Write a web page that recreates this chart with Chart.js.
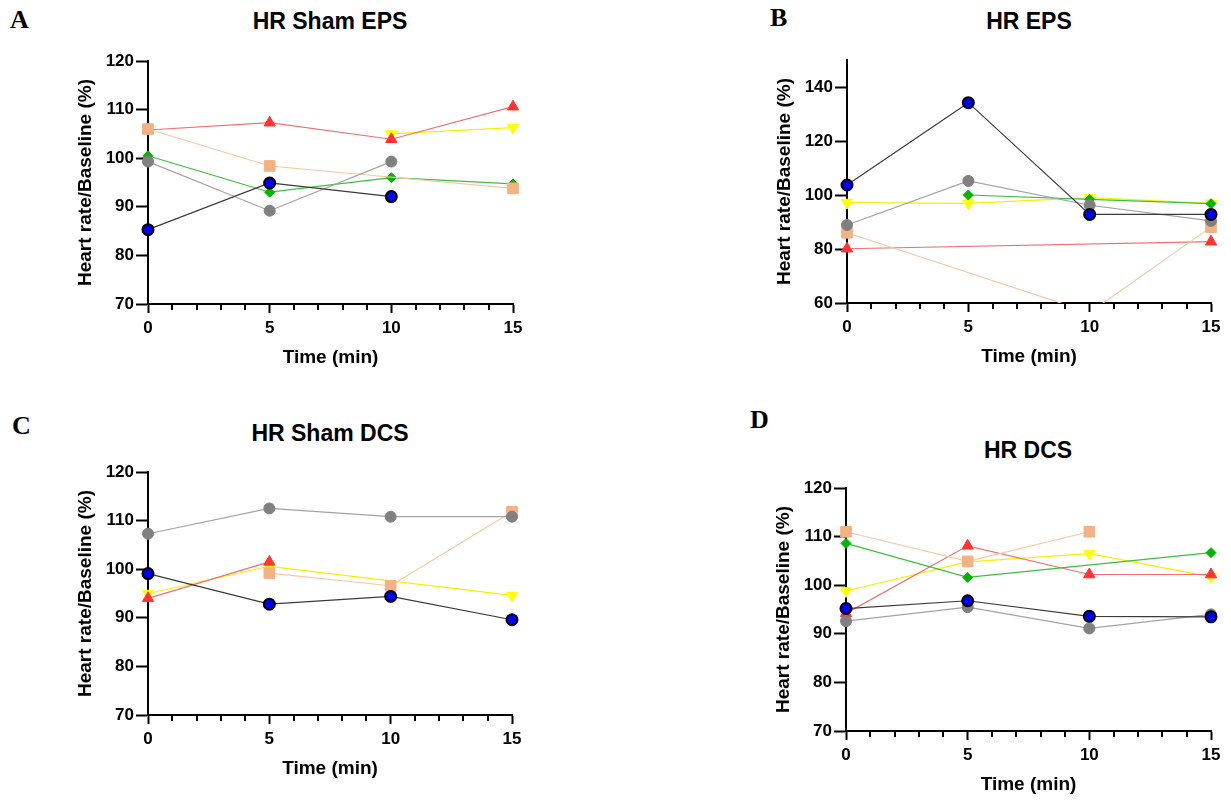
<!DOCTYPE html>
<html>
<head>
<meta charset="utf-8">
<script src="https://cdn.jsdelivr.net/npm/chart.js@4"></script>
<style>
  body { margin: 0; width: 1231px; height: 801px; background: #fff; position: relative; overflow: hidden; }
  canvas { position: absolute; }
  .letter { position: absolute; font: bold 26px 'Liberation Serif', 'Times New Roman', serif; line-height: 26px; color: #000; }
  .title { position: absolute; width: 400px; text-align: center; font: bold 23px 'Liberation Sans', Arial, sans-serif; line-height: 23px; color: #000; }
</style>
</head>
<body>
<div class="letter" style="left:10px;top:7px">A</div>
<div class="letter" style="left:770px;top:5px">B</div>
<div class="letter" style="left:12px;top:413px">C</div>
<div class="letter" style="left:750px;top:407px">D</div>

<div class="title" style="left:130px;top:10px">HR Sham EPS</div>
<div class="title" style="left:829px;top:10px">HR EPS</div>
<div class="title" style="left:130px;top:422px">HR Sham DCS</div>
<div class="title" style="left:828px;top:439px">HR DCS</div>

<canvas id="chartA" width="600" height="390" style="left:0;top:0"></canvas>
<canvas id="chartB" width="591" height="390" style="left:640px;top:0"></canvas>
<canvas id="chartC" width="600" height="401" style="left:0;top:400px"></canvas>
<canvas id="chartD" width="591" height="401" style="left:640px;top:400px"></canvas>

<script>
// Время (мин)
const times = [0, 5, 10, 15];

// A: HR Sham EPS
const shamEpsBlue   = [85.3, 94.9, 92.1, null];
const shamEpsGray   = [99.3, 89.2, 99.3, null];
const shamEpsOrange = [106.0, 98.4, null, 93.8];
const shamEpsGreen  = [100.5, 93.0, 96.0, 94.7];
const shamEpsRed    = [105.8, 107.3, 103.9, 110.6];
const shamEpsYellow = [null, null, 105.0, 106.3];

// B: HR EPS
const epsBlue   = [103.7, 134.2, 92.8, 92.8];
const epsGray   = [88.9, 105.2, 96.2, 90.4];
const epsOrange = [86.0, null, 56.5, 88.1];
const epsGreen  = [null, 100.0, 98.4, 96.8];
const epsRed    = [80.1, null, null, 82.7];
const epsYellow = [97.2, 96.9, 99.0, 96.9];

// C: HR Sham DCS
const shamDcsBlue   = [99.1, 92.8, 94.4, 89.6];
const shamDcsGray   = [107.3, 112.5, 110.8, 110.8];
const shamDcsOrange = [null, 99.2, 96.6, 111.8];
const shamDcsGreen  = [null, null, null, null];
const shamDcsRed    = [94.0, 101.5, null, null];
const shamDcsYellow = [95.0, 100.6, null, 94.6];

// D: HR DCS
const dcsBlue   = [95.2, 96.8, 93.6, 93.5];
const dcsGray   = [92.6, 95.5, 91.1, 94.0];
const dcsOrange = [111.0, 104.9, 111.0, null];
const dcsGreen  = [108.6, 101.6, null, 106.7];
const dcsRed    = [94.2, 108.1, 102.2, 102.2];
const dcsYellow = [98.8, 104.8, 106.5, 101.7];

// Шкалы Y
const yTicksSmall = { min: 70, max: 120, step: 10, top: 120 };
const yTicksEps   = { min: 60, max: 150, step: 20, top: 140 };

// Стили серий (первая рисуется сверху)
const seriesStyles = [
  { borderColor: '#3a3a3a', pointStyle: 'circle',   pointRadius: 5.5, pointBackgroundColor: '#0000ee', pointBorderColor: '#000', pointBorderWidth: 2 },
  { borderColor: '#a3a3a3', pointStyle: 'circle',   pointRadius: 5.5, pointBackgroundColor: '#808080', pointBorderColor: '#808080', pointBorderWidth: 1 },
  { borderColor: '#f6c9a4', pointStyle: 'rect',     pointRadius: 7.5, pointBackgroundColor: '#f4b183', pointBorderColor: '#f4b183', pointBorderWidth: 1 },
  { borderColor: '#3cc03c', pointStyle: 'rectRot',  pointRadius: 5,   pointBackgroundColor: '#00b400', pointBorderColor: '#00b400', pointBorderWidth: 1 },
  { borderColor: '#f07070', pointStyle: 'triangle', pointRadius: 6.5, pointBackgroundColor: '#ff3333', pointBorderColor: '#ff3333', pointBorderWidth: 1 },
  { borderColor: '#f2f200', pointStyle: 'triangle', pointRadius: 6.5, pointBackgroundColor: '#ffff00', pointBorderColor: '#ffff00', pointBorderWidth: 1, pointRotation: 180 }
];

const tickFont = { family: "'Liberation Sans', Arial, sans-serif", size: 17, weight: 'bold' };
const axisTitleFont = { family: "'Liberation Sans', Arial, sans-serif", size: 19, weight: 'bold' };

// Мелкие засечки по оси X (каждую минуту)
const minorTicks = {
  id: 'minorTicks',
  afterDraw(chart) {
    const xs = chart.scales.x;
    const ctx = chart.ctx;
    const y0 = chart.chartArea.bottom;
    ctx.save();
    ctx.strokeStyle = '#000';
    ctx.lineWidth = 2;
    for (let v = 1; v < 15; v++) {
      if (v % 5 === 0) continue;
      const px = Math.round(xs.getPixelForValue(v));
      ctx.beginPath();
      ctx.moveTo(px, y0);
      ctx.lineTo(px, y0 + 6);
      ctx.stroke();
    }
    ctx.restore();
  }
};

function buildChart(id, series, yAxis, pad) {
  new Chart(document.getElementById(id), {
    type: 'line',
    data: {
      datasets: series.map((vals, i) => ({
        ...seriesStyles[i],
        data: vals.map((v, j) => ({ x: times[j], y: v })),
        borderWidth: 1.2,
        spanGaps: true,
        clip: { left: 12, top: 12, right: 12, bottom: 0 }
      }))
    },
    options: {
      responsive: false,
      animation: false,
      layout: { padding: pad },
      plugins: { legend: { display: false }, tooltip: { enabled: false } },
      scales: {
        x: {
          type: 'linear',
          min: 0,
          max: 15,
          afterFit: s => { s.height = 65; },
          ticks: { stepSize: 5, padding: 5, color: '#000', font: tickFont },
          grid: { drawOnChartArea: false, tickLength: 9, tickWidth: 2, tickColor: '#000' },
          border: { color: '#000', width: 2 },
          title: { display: true, text: 'Time (min)', color: '#000', font: axisTitleFont, padding: 0 }
        },
        y: {
          min: yAxis.min,
          max: yAxis.max,
          afterFit: s => { s.width = 74; },
          afterBuildTicks: s => { s.ticks = s.ticks.filter(t => t.value <= yAxis.top); },
          ticks: { stepSize: yAxis.step, padding: 2, color: '#000', font: tickFont },
          grid: { drawOnChartArea: false, tickLength: 12, tickWidth: 2, tickColor: '#000' },
          border: { color: '#000', width: 2 },
          title: { display: true, text: 'Heart rate/Baseline (%)', color: '#000', font: axisTitleFont, padding: 0 }
        }
      }
    },
    plugins: [minorTicks]
  });
}

buildChart('chartA', [shamEpsBlue, shamEpsGray, shamEpsOrange, shamEpsGreen, shamEpsRed, shamEpsYellow],
  yTicksSmall, { left: 74, top: 61, right: 87, bottom: 21 });
buildChart('chartB', [epsBlue, epsGray, epsOrange, epsGreen, epsRed, epsYellow],
  yTicksEps, { left: 133, top: 60, right: 20, bottom: 22 });
buildChart('chartC', [shamDcsBlue, shamDcsGray, shamDcsOrange, shamDcsGreen, shamDcsRed, shamDcsYellow],
  yTicksSmall, { left: 74, top: 72, right: 88, bottom: 21 });
buildChart('chartD', [dcsBlue, dcsGray, dcsOrange, dcsGreen, dcsRed, dcsYellow],
  yTicksSmall, { left: 132, top: 88, right: 20, bottom: 5 });
</script>
</body>
</html>
